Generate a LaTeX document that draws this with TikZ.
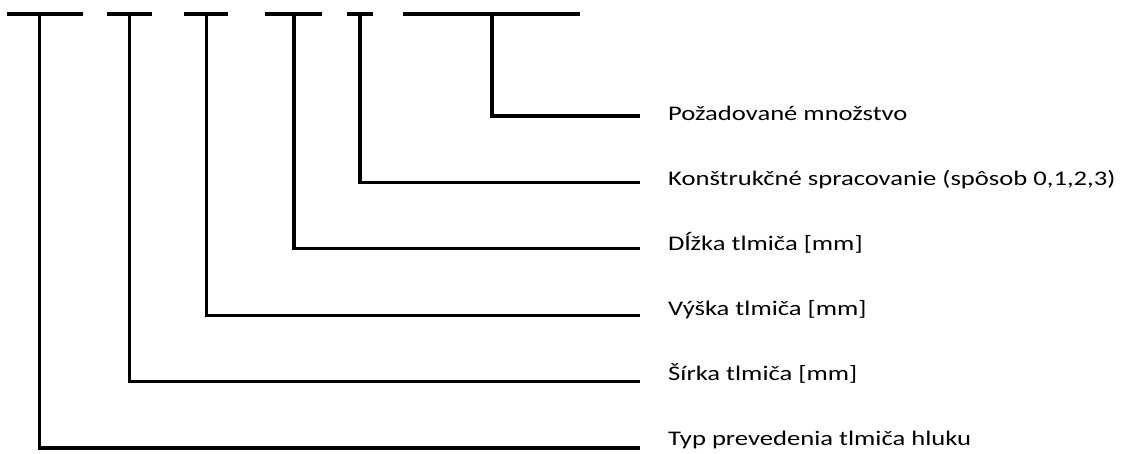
\documentclass[tikz,border=0pt]{standalone}
\usepackage{fontspec}
\setmainfont{Carlito}[FakeStretch=1.28]
\begin{document}
\begin{tikzpicture}[x=1pt,y=-1pt,
  bar/.style={line width=3.3pt,line join=miter,line cap=butt},
  lab/.style={anchor=base west,inner xsep=0pt,inner ysep=0pt,font=\fontsize{20.8}{24}\selectfont}]
\useasboundingbox (0,0) rectangle (1122,453);
% labels
\node[lab] (l6) at (668,120.7) {Požadované množstvo};
\node[lab] (l5) at (668,185.6) {Konštrukčné spracovanie (spôsob 0,1,2,3)};
\node[lab] (l4) at (668,250.5) {Dĺžka tlmiča [mm]};
\node[lab] (l3) at (668,315.4) {Výška tlmiča [mm]};
\node[lab] (l2) at (668,380.2) {Šírka tlmiča [mm]};
\node[lab] (l1) at (668,445.1) {Typ prevedenia tlmiča hluku};
% connector ends
\coordinate (e6) at (640,116);
\coordinate (e5) at (640,182.4);
\coordinate (e4) at (640,248.8);
\coordinate (e3) at (640,315.2);
\coordinate (e2) at (640,381.6);
\coordinate (e1) at (640,448);
% top fields
\coordinate (t1) at (39.5,14);
\coordinate (t2) at (129.5,14);
\coordinate (t3) at (206.5,14);
\coordinate (t4) at (294,14);
\coordinate (t5) at (360,14);
\coordinate (t6) at (492,14);
\draw[bar] (7,14) -- (83,14);
\draw[bar] (107,14) -- (152,14);
\draw[bar] (184,14) -- (228,14);
\draw[bar] (265,14) -- (322,14);
\draw[bar] (347,14) -- (373,14);
\draw[bar] (403,14) -- (580,14);
% connectors
\draw[bar] (t1) |- (e1);
\draw[bar] (t2) |- (e2);
\draw[bar] (t3) |- (e3);
\draw[bar] (t4) |- (e4);
\draw[bar] (t5) |- (e5);
\draw[bar] (t6) |- (e6);
\end{tikzpicture}
\end{document}
